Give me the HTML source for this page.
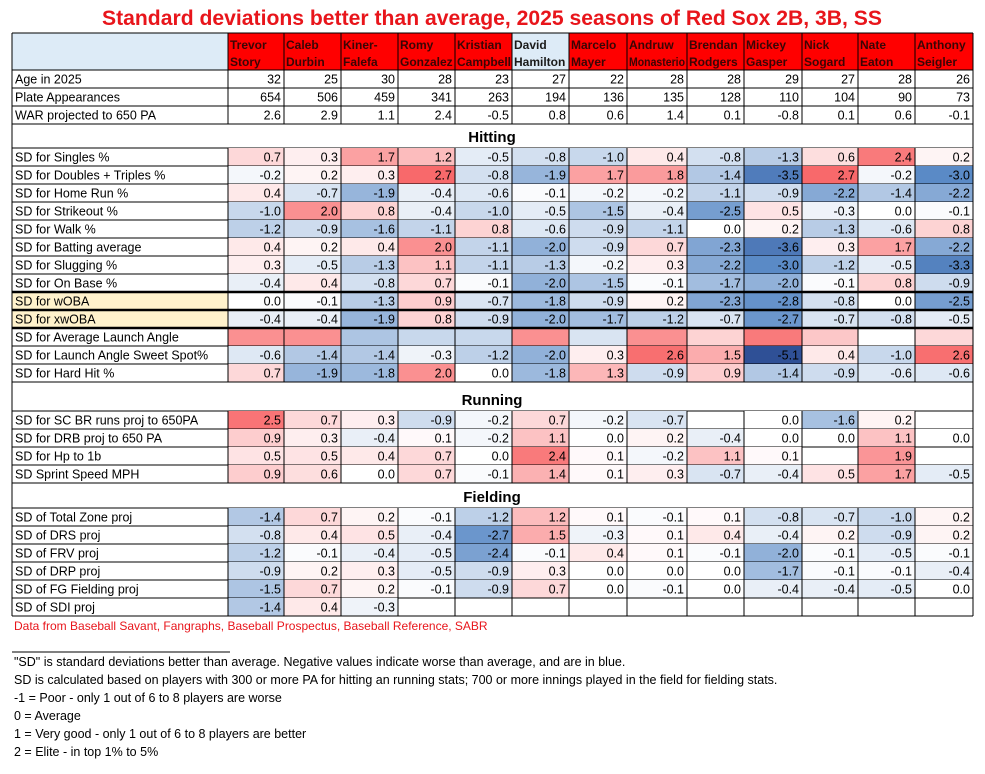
<!DOCTYPE html>
<html><head><meta charset="utf-8"><style>
html,body{margin:0;padding:0;background:#fff;}
svg{display:block;font-family:"Liberation Sans",Arial,sans-serif;}
</style></head><body>
<svg id="c" width="985" height="774" xmlns="http://www.w3.org/2000/svg"></svg>
<script>
const players=["Trevor|Story","Caleb|Durbin","Kiner-|Falefa","Romy|Gonzalez","Kristian|Campbell","David|Hamilton","Marcelo|Mayer","Andruw|Monasterio","Brendan|Rodgers","Mickey|Gasper","Nick|Sogard","Nate|Eaton","Anthony|Seigler"];
const ages=[32,25,30,28,23,27,22,28,28,29,27,28,26];
const plateApps=[654,506,459,341,263,194,136,135,128,110,104,90,73];
const warProj=["2.6","2.9","1.1","2.4","-0.5","0.8","0.6","1.4","0.1","-0.8","0.1","0.6","-0.1"];
const hitLabels=["SD for Singles %","SD for Doubles + Triples %","SD for Home Run %","SD for Strikeout %","SD for Walk %","SD for Batting average","SD for Slugging %","SD for On Base %","SD for wOBA","SD for xwOBA","SD for Average Launch Angle","SD for Launch Angle Sweet Spot%","SD for Hard Hit %"];
const singles=[0.7,0.3,1.7,1.2,-0.5,-0.8,-1.0,0.4,-0.8,-1.3,0.6,2.4,0.2];
const doublesTriples=[-0.2,0.2,0.3,2.7,-0.8,-1.9,1.7,1.8,-1.4,-3.5,2.7,-0.2,-3.0];
const homeRuns=[0.4,-0.7,-1.9,-0.4,-0.6,-0.1,-0.2,-0.2,-1.1,-0.9,-2.2,-1.4,-2.2];
const strikeouts=[-1.0,2.0,0.8,-0.4,-1.0,-0.5,-1.5,-0.4,-2.5,0.5,-0.3,0.0,-0.1];
const walks=[-1.2,-0.9,-1.6,-1.1,0.8,-0.6,-0.9,-1.1,0.0,0.2,-1.3,-0.6,0.8];
const battingAvg=[0.4,0.2,0.4,2.0,-1.1,-2.0,-0.9,0.7,-2.3,-3.6,0.3,1.7,-2.2];
const slugging=[0.3,-0.5,-1.3,1.1,-1.1,-1.3,-0.2,0.3,-2.2,-3.0,-1.2,-0.5,-3.3];
const onBase=[-0.4,0.4,-0.8,0.7,-0.1,-2.0,-1.5,-0.1,-1.7,-2.0,-0.1,0.8,-0.9];
const wOBA=[0.0,-0.1,-1.3,0.9,-0.7,-1.8,-0.9,0.2,-2.3,-2.8,-0.8,0.0,-2.5];
const xwOBA=[-0.4,-0.4,-1.9,0.8,-0.9,-2.0,-1.7,-1.2,-0.7,-2.7,-0.7,-0.8,-0.5];
const launchAngle=[2.0,2.0,-1.5,-1.0,-1.0,2.0,-0.7,2.0,0.8,2.4,1.0,0.0,0.7];
const sweetSpot=[-0.6,-1.4,-1.4,-0.3,-1.2,-2.0,0.3,2.6,1.5,-5.1,0.4,-1.0,2.6];
const hardHit=[0.7,-1.9,-1.8,2.0,0.0,-1.8,1.3,-0.9,0.9,-1.4,-0.9,-0.6,-0.6];
const runLabels=["SD for SC BR runs proj to 650PA","SD for DRB proj to 650 PA","SD for Hp to 1b","SD Sprint Speed MPH"];
const scBR=[2.5,0.7,0.3,-0.9,-0.2,0.7,-0.2,-0.7,null,0.0,-1.6,0.2,null];
const drb=[0.9,0.3,-0.4,0.1,-0.2,1.1,0.0,0.2,-0.4,0.0,0.0,1.1,0.0];
const hpTo1b=[0.5,0.5,0.4,0.7,0.0,2.4,0.1,-0.2,1.1,0.1,null,1.9,null];
const sprint=[0.9,0.6,0.0,0.7,-0.1,1.4,0.1,0.3,-0.7,-0.4,0.5,1.7,-0.5];
const fieldLabels=["SD of Total Zone proj","SD of DRS proj","SD of FRV proj","SD of DRP proj","SD of FG Fielding proj","SD  of SDI proj"];
const totalZone=[-1.4,0.7,0.2,-0.1,-1.2,1.2,0.1,-0.1,0.1,-0.8,-0.7,-1.0,0.2];
const drs=[-0.8,0.4,0.5,-0.4,-2.7,1.5,-0.3,0.1,0.4,-0.4,0.2,-0.9,0.2];
const frv=[-1.2,-0.1,-0.4,-0.5,-2.4,-0.1,0.4,0.1,-0.1,-2.0,-0.1,-0.5,-0.1];
const drp=[-0.9,0.2,0.3,-0.5,-0.9,0.3,0.0,0.0,0.0,-1.7,-0.1,-0.1,-0.4];
const fgField=[-1.5,0.7,0.2,-0.1,-0.9,0.7,0.0,-0.1,0.0,-0.4,-0.4,-0.5,0.0];
const sdi=[-1.4,0.4,-0.3,null,null,null,null,null,null,null,null,null,null];

const svg=document.getElementById('c');
const NS="http://www.w3.org/2000/svg";
function mk(tag,attrs,parent){const e=document.createElementNS(NS,tag);for(const k in attrs)e.setAttribute(k,attrs[k]);(parent||svg).appendChild(e);return e;}
const colX=[228,284,341,398,455,512,569,627,687,744,802,858,915,973];
const L=12,R=973,RH=18;
function colorFor(v){
  function mix(a,b,t){return a.map((x,i)=>Math.round(x+(b[i]-x)*t));}
  let c;
  if(v>=0){c=mix([255,255,255],[248,105,107],Math.min(v/2.7,1));}
  else{const a=-v; c=a<=3?mix([255,255,255],[90,138,198],a/3):mix([90,138,198],[47,80,150],Math.min((a-3)/2.1,1));}
  return `rgb(${c.join(',')})`;
}
function txt(x,y,s,opt,parent){const t=mk('text',Object.assign({x:x,y:y,'font-size':12,fill:'#000'},opt||{}),parent);t.textContent=s;return t;}
function hline(y,w){mk('line',{x1:L,x2:R,y1:y,y2:y,stroke:'#000','stroke-width':w||1});}

const title=txt(492,25,"Standard deviations better than average, 2025 seasons of Red Sox 2B, 3B, SS",{'font-size':21,'font-weight':'bold',fill:'#e8151b','text-anchor':'middle',textLength:780,lengthAdjust:'spacingAndGlyphs'});



const hdr=mk('rect',{x:L,y:33,width:228-L,height:37,fill:'#ddebf7'});


players.forEach((p,i)=>{
  const g=mk('g',{});
  
  
  const ham=i===5;
  mk('rect',{x:colX[i],y:33,width:colX[i+1]-colX[i],height:37,fill:ham?'#ddebf7':'#ff0000'},g);
  const [a,b]=p.split('|');
  const lw=colX[i+1]-colX[i]-4;
  const o={'font-size':12,'font-weight':'bold',fill:ham?'#1a1a1a':'#3a0505'};
  txt(colX[i]+2,49,a,o,g);
  const t2=txt(colX[i]+2,66,b,o,g);
  if(b.length>9){t2.setAttribute('textLength',lw);t2.setAttribute('lengthAdjust','spacingAndGlyphs');}
});

function dataRow(y,label,vals,opts){
  opts=opts||{};
  const g=mk('g',{});
  
  
  if(opts.labelFill)mk('rect',{x:L,y:y,width:228-L,height:RH,fill:opts.labelFill},g);
  txt(L+3,y+13.5,label,{'font-size':12.5},g);
  vals.forEach((v,i)=>{
    if(v===null||v===undefined)return;
    if(opts.color){
      const r=mk('rect',{x:colX[i],y:y,width:colX[i+1]-colX[i],height:RH,fill:colorFor(v)},g);
      
      
    }
    if(!opts.hideText){
      const s=typeof v==='number'&&opts.color?v.toFixed(1):String(v);
      txt(colX[i+1]-3,y+13.5,s,{'font-size':12.5,'text-anchor':'end'},g);
    }
  });
  hline(y+RH);
}
function sectionHeader(y0,y1,name){
  const t=txt(492,y1-6,name,{'font-size':15,'font-weight':'bold','text-anchor':'middle'});
  
  
  hline(y1);
}

hline(33);hline(70);
dataRow(70,"Age in 2025",ages);
dataRow(88,"Plate Appearances",plateApps);
dataRow(106,"WAR projected to 650 PA",warProj);
sectionHeader(124,148,"Hitting");
const hitVals=[singles,doublesTriples,homeRuns,strikeouts,walks,battingAvg,slugging,onBase,wOBA,xwOBA,launchAngle,sweetSpot,hardHit];
let y=148;
hitVals.forEach((v,i)=>{
  dataRow(y,hitLabels[i],v,{color:true,hideText:i===10,labelFill:(i===8||i===9)?'#fff2cc':null});
  y+=RH;
});
[148+8*RH,148+9*RH,148+10*RH].forEach(yy=>hline(yy,2.5));
sectionHeader(382,411,"Running");
y=411;
[scBR,drb,hpTo1b,sprint].forEach((v,i)=>{dataRow(y,runLabels[i],v,{color:true});y+=RH;});
sectionHeader(483,508,"Fielding");
y=508;
[totalZone,drs,frv,drp,fgField,sdi].forEach((v,i)=>{dataRow(y,fieldLabels[i],v,{color:true});y+=RH;});
const bottom=y;
colX.forEach((x,i)=>{
  mk('line',{x1:x,x2:x,y1:33,y2:124,stroke:'#000','stroke-width':1});
  mk('line',{x1:x,x2:x,y1:148,y2:382,stroke:'#000','stroke-width':1});
  mk('line',{x1:x,x2:x,y1:411,y2:483,stroke:'#000','stroke-width':1});
  mk('line',{x1:x,x2:x,y1:508,y2:bottom,stroke:'#000','stroke-width':1});
});
mk('line',{x1:L,x2:L,y1:33,y2:bottom,stroke:'#000','stroke-width':1});
mk('line',{x1:R,x2:R,y1:33,y2:bottom,stroke:'#000','stroke-width':1});

const src=txt(14,630,"Data from Baseball Savant, Fangraphs, Baseball Prospectus, Baseball Reference, SABR",{'font-size':12,fill:'#e8151b'});


mk('line',{x1:12,x2:230,y1:652,y2:652,stroke:'#000','stroke-width':1});
const notes=['"SD" is standard deviations better than average. Negative values indicate worse than average, and are in blue.','SD is calculated based on players with 300 or more PA for hitting an running stats; 700 or more innings played in the field for fielding stats.','-1 = Poor - only 1 out of 6 to 8 players are worse','0 = Average','1 = Very good - only 1 out of 6 to 8 players are better','2 = Elite - in top 1% to 5%'];
notes.forEach((n,i)=>{
  const t=txt(14,666+i*18,n,{'font-size':12.5});
  
  
});
</script>
</body></html>
